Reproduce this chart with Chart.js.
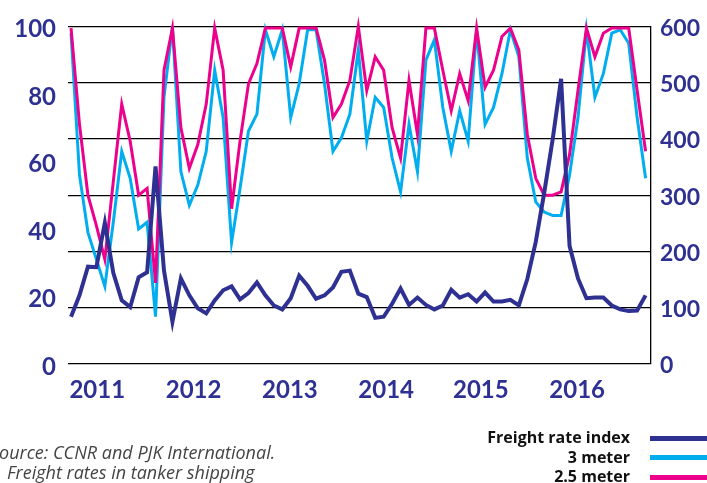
<!DOCTYPE html>
<html>
<head>
<meta charset="utf-8">
<script src="https://cdn.jsdelivr.net/npm/chart.js@4.4.0/dist/chart.umd.min.js"></script>
<style>
  html, body { margin: 0; padding: 0; background: #fff; }
  body { width: 707px; height: 483px; position: relative; overflow: hidden; font-family: Lato, sans-serif; }
  #wrap { position: absolute; left: 0; top: 0; width: 707px; height: 483px; }
  .src { position: absolute; font-family: 'Open Sans', sans-serif; font-style: italic; color: #444; font-size: 18px; white-space: nowrap; line-height: 1; }
  .leg-label { position: absolute; right: 77px; font-family: 'Open Sans', sans-serif; font-weight: bold; color: #111; font-size: 16px; white-space: nowrap; line-height: 1; }
  .leg-line { position: absolute; left: 650px; width: 60px; height: 5px; }
</style>
</head>
<body>
<div id="wrap"><canvas id="chart"></canvas></div>
<div class="src" style="left:-10px; top:443px;">Source: CCNR and PJK International.</div>
<div class="src" style="left:7px; top:463px;">Freight rates in tanker shipping</div>
<div id="legend"></div>
<script>
// monthly points, Jan 2011 .. Sep 2016
const FREIGHT_INDEX = [
  84, 122, 173, 172, 251, 162, 113, 101, 154, 163,
  351, 166, 75, 152, 122, 99, 90, 113, 131, 138,
  115, 126, 145, 122, 104, 97, 117, 157, 139, 116,
  122, 136, 164, 166, 125, 119, 82, 84, 107, 134,
  105, 118, 105, 97, 104, 132, 118, 124, 111, 127,
  111, 111, 114, 104, 151, 217, 304, 399, 507, 210,
  152, 117, 118, 118, 104, 97, 94, 95, 122
];
const METER_3 = [
  98, 56, 39, 31, 23, 42, 63, 55, 40, 42,
  14, 79, 100, 57, 47, 53, 63, 87, 73, 36,
  52, 69, 74, 99, 91, 99, 73, 83, 99, 99,
  83, 63, 67, 74, 93, 66, 79, 76, 61, 51,
  71, 57, 90, 96, 76, 63, 75, 66, 99, 71,
  76, 86, 99, 91, 61, 48, 45, 44, 44, 56,
  73, 99, 79, 86, 98, 99, 95, 73, 55
];
const METER_2_5 = [
  99.5, 71, 50, 41, 31, 54, 77, 66, 50, 52,
  24, 87, 99.5, 70, 58, 65, 77, 99.5, 87, 46,
  66, 83, 89, 99.5, 99.5, 99.5, 88, 99.5, 99.5, 99.5,
  90, 73, 77, 84, 100, 81, 91, 87, 70, 61,
  84, 68, 99.5, 99.5, 87, 75, 86, 78, 99.5, 82,
  87, 97, 99.5, 93, 68, 55, 50, 50, 51, 62,
  81, 99.5, 91, 98, 99.5, 99.5, 99.5, 81, 63
];
const YEAR_LABELS = ['2011', '2012', '2013', '2014', '2015', '2016'];
const YEAR_TICKS = [3.1, 14.5, 25.9, 37.3, 48.5, 59.9];
const LEFT_TICKS = [0, 20, 40, 60, 80, 100];
const RIGHT_TICKS = [0, 100, 200, 300, 400, 500, 600];

const NAVY = '#2e3192';
const CYAN = '#00aeef';
const PINK = '#ec008c';
const LABEL = '#2e3192';

const toPoints = arr => arr.map((v, i) => ({ x: i, y: v }));

const series = [
  { label: 'Freight rate index', data: FREIGHT_INDEX, color: NAVY, width: 4, axis: 'y1', order: 1 },
  { label: '3 meter', data: METER_3, color: CYAN, width: 3, axis: 'y', order: 3 },
  { label: '2.5 meter', data: METER_2_5, color: PINK, width: 3, axis: 'y', order: 2 },
];

// legend, right aligned, line sample on the right
const legendEl = document.getElementById('legend');
series.forEach((s, i) => {
  const cy = 438 + i * 19.5;
  const t = document.createElement('div');
  t.className = 'leg-label';
  t.style.top = (cy - 9) + 'px';
  t.textContent = s.label;
  const l = document.createElement('div');
  l.className = 'leg-line';
  l.style.top = (cy - 2.5) + 'px';
  l.style.background = s.color;
  legendEl.appendChild(t);
  legendEl.appendChild(l);
});

const tickFont = { family: 'Lato', size: 24, weight: 'bold' };

new Chart(document.getElementById('chart'), {
  type: 'line',
  data: {
    datasets: series.map(s => ({
      label: s.label,
      data: toPoints(s.data),
      borderColor: s.color,
      backgroundColor: s.color,
      borderWidth: s.width,
      pointRadius: 0,
      tension: 0,
      yAxisID: s.axis,
      order: s.order,
      clip: false,
    })),
  },
  options: {
    responsive: true,
    maintainAspectRatio: false,
    devicePixelRatio: 1,
    animation: false,
    layout: { padding: { top: 23.5, left: 0, right: 0, bottom: 0 } },
    plugins: { legend: { display: false }, tooltip: { enabled: false } },
    scales: {
      x: {
        type: 'linear',
        min: -0.36,
        max: 68.64,
        afterBuildTicks: scale => { scale.ticks = YEAR_TICKS.map(v => ({ value: v })); },
        afterFit: scale => { scale.height = 119; },
        grid: { display: false, drawTicks: false },
        border: { display: false },
        ticks: {
          autoSkip: false,
          maxRotation: 0,
          padding: 12,
          color: LABEL,
          font: { family: 'Lato', size: 24, weight: 'bold' },
          callback: (v, i) => YEAR_LABELS[i],
        },
      },
      y: {
        position: 'left',
        min: 0,
        max: 100,
        afterBuildTicks: scale => { scale.ticks = LEFT_TICKS.map(v => ({ value: v })); },
        afterFit: scale => { scale.width = 68; },
        grid: { display: false, drawTicks: false },
        border: { display: false },
        ticks: { padding: 12, color: LABEL, font: tickFont, labelOffset: 3 },
      },
      y1: {
        position: 'right',
        min: 0,
        max: 600,
        afterBuildTicks: scale => { scale.ticks = RIGHT_TICKS.map(v => ({ value: v })); },
        afterFit: scale => { scale.width = 56; },
        grid: { display: true, drawTicks: false, color: '#000', lineWidth: 1.3 },
        border: { display: true, color: '#000', width: 1.3 },
        ticks: { padding: 9, color: LABEL, font: { family: 'Lato', size: 23, weight: 'bold' }, labelOffset: 2 },
      },
    },
  },
});
</script>
</body>
</html>
